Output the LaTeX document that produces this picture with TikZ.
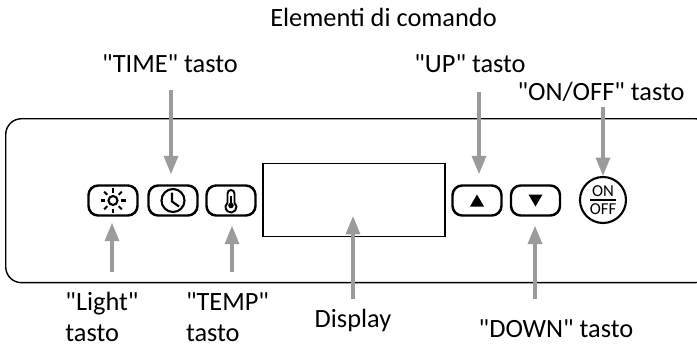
\documentclass[tikz,border=0pt]{standalone}
\usepackage{fontspec}
\setmainfont{Carlito}[Ligatures=TeXOff]
\usetikzlibrary{arrows.meta}
\definecolor{mygrey}{RGB}{155,155,155}
\tikzset{
    keybox/.style={draw, line width=1.4pt, rounded corners=5.5pt, minimum width=0.98cm, minimum height=0.6cm},
    pointer/.style={draw=mygrey, line width=1.9pt, -{Triangle[length=10.5pt, width=8pt, fill=mygrey]}},
    caption/.style={font=\fontsize{15}{17.6}\selectfont, anchor=base},
}

\begin{document}
\begin{tikzpicture}[x=0.02cm, y=-0.02cm]
    \useasboundingbox (0, 0) rectangle (697, 345);
    % Front panel, its right side runs off the page.
    \node[draw, line width=0.8pt, rounded corners=9pt, minimum width=14.1cm, minimum height=3.28cm, anchor=north west] (panel) at (5, 118) {};
    \node[caption] (title) at (383.5, 26) {Elementi di comando};

    % Keys and display.
    \node[keybox] (lightkey) at (113, 200.5) {};
    \node[keybox] (timekey) at (173, 200.5) {};
    \node[keybox] (tempkey) at (231, 200.5) {};
    \node[draw, line width=0.8pt, minimum width=3.64cm, minimum height=1.45cm] (display) at (354, 200) {};
    \node[keybox] (upkey) at (477, 200.5) {};
    \node[keybox] (downkey) at (535.5, 200.5) {};
    \node[draw, circle, line width=1.2pt, minimum size=0.92cm, inner sep=0pt] (onoff) at (603, 200) {};

    % Sun.
    \draw[line width=1.2pt] (lightkey.center) circle (4.5);
    \foreach \a in {0, 45, ..., 315} {
        \draw[line width=1.2pt] (lightkey.center) ++(\a:8) -- ++(\a:4.5);
    }
    % Clock.
    \draw[line width=1.2pt] (timekey.center) circle (11.5);
    \draw[line width=1.2pt] ([shift={(-1, -8)}]timekey.center) -- ([shift={(-1, 1)}]timekey.center) -- ([shift={(6, 6)}]timekey.center);
    % Thermometer.
    \draw[line width=1.1pt] ([shift={(-3.5, 2.26)}]tempkey.center) -- ([shift={(-3.5, -7)}]tempkey.center) arc (180:360:3.5) -- ([shift={(3.5, 2.26)}]tempkey.center) arc (-50.5:230.5:5.5);
    \fill ([shift={(0, 5)}]tempkey.center) circle (2.8);
    \draw[line width=1pt] ([shift={(0, -5)}]tempkey.center) -- ([shift={(0, 5)}]tempkey.center);
    % Triangles on the two arrow keys.
    \fill ([shift={(-7, 6)}]upkey.center) -- ([shift={(7, 6)}]upkey.center) -- ([shift={(0, -6)}]upkey.center) -- cycle;
    \fill ([shift={(-7, -6)}]downkey.center) -- ([shift={(7, -6)}]downkey.center) -- ([shift={(0, 6)}]downkey.center) -- cycle;
    % Power key.
    \draw[line width=0.8pt] ([shift={(-13, 0)}]onoff.center) -- ([shift={(13, 0)}]onoff.center);
    \node[font=\fontsize{9.5}{10}\selectfont] (onword) at ([shift={(0, -9)}]onoff.center) {ON};
    \node[font=\fontsize{9.5}{10}\selectfont] (offword) at ([shift={(0, 9)}]onoff.center) {OFF};

    % Labels.
    \node[caption] (timelabel) at (170, 72) {"TIME" tasto};
    \node[caption] (uplabel) at (470, 72) {"UP" tasto};
    \node[caption] (onofflabel) at (601, 100) {"ON/OFF" tasto};
    \node[caption, align=left] (lightlabel) at (102, 341) {"Light"\\tasto};
    \node[caption, align=left] (templabel) at (227.5, 341) {"TEMP"\\tasto};
    \node[caption] (displaylabel) at (353, 327) {Display};
    \node[caption] (downlabel) at (556, 337) {"DOWN" tasto};

    % Free ends of the arrows.
    \coordinate (timetail) at (171, 90);
    \coordinate (uptail) at (479, 92);
    \coordinate (onofftail) at (603, 107);
    \coordinate (lighttail) at (112, 272);
    \coordinate (temptail) at (232, 272);
    \coordinate (displaytail) at (353, 299);
    \coordinate (displaytip) at (353, 216);
    \coordinate (downtail) at (535, 299);

    \draw[pointer, shorten >=5.7pt] (timetail) -- (timetail |- timekey.north);
    \draw[pointer, shorten >=5.7pt] (uptail) -- (uptail |- upkey.north);
    \draw[pointer] (onofftail) -- (onofftail |- onoff.north);
    \draw[pointer, shorten >=3.4pt] (lighttail) -- (lighttail |- lightkey.south);
    \draw[pointer, shorten >=5.1pt] (temptail) -- (temptail |- tempkey.south);
    \draw[pointer] (displaytail) -- (displaytip);
    \draw[pointer, shorten >=5.1pt] (downtail) -- (downtail |- downkey.south);
\end{tikzpicture}
\end{document}
